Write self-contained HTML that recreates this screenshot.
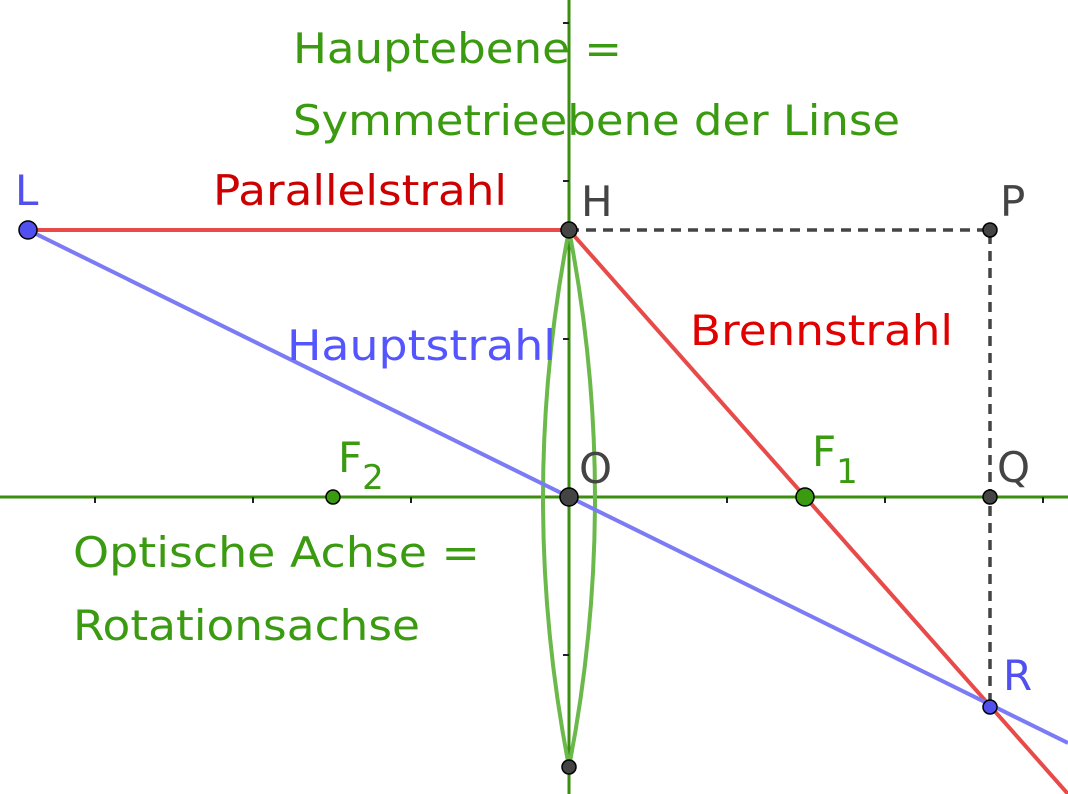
<!DOCTYPE html>
<html><head><meta charset="utf-8"><style>
body{margin:0;background:#fff}
svg{display:block}
text{font-family:"DejaVu Sans","Liberation Sans",sans-serif;font-size:42px}
</style></head><body>
<svg width="1068" height="794" viewBox="0 0 1068 794" xmlns="http://www.w3.org/2000/svg">
<line x1="0" y1="497" x2="1068" y2="497" stroke="#3a8f10" stroke-width="3"/>
<line x1="569" y1="0" x2="569" y2="794" stroke="#3a8f10" stroke-width="3"/>
<g stroke="#222" stroke-width="2">
<line x1="95" y1="497" x2="95" y2="503"/><line x1="253" y1="497" x2="253" y2="503"/><line x1="411" y1="497" x2="411" y2="503"/>
<line x1="727" y1="497" x2="727" y2="503"/><line x1="885" y1="497" x2="885" y2="503"/><line x1="1043" y1="497" x2="1043" y2="503"/>
<line x1="563" y1="23" x2="569" y2="23"/><line x1="563" y1="181" x2="569" y2="181"/><line x1="563" y1="339" x2="569" y2="339"/><line x1="563" y1="655" x2="569" y2="655"/>
</g>
<path d="M569 230 Q517 498 569 767" fill="none" stroke="#6ab94a" stroke-width="4"/>
<path d="M569 230 Q621 498 569 767" fill="none" stroke="#6ab94a" stroke-width="4"/>
<polyline points="569,230 990,230 990,707" fill="none" stroke="#444" stroke-width="3.5" stroke-dasharray="10,7"/>
<line x1="28" y1="230" x2="569" y2="230" stroke="#e84a4a" stroke-width="4"/>
<line x1="569" y1="230" x2="1068" y2="794" stroke="#e84a4a" stroke-width="4"/>
<line x1="28" y1="230" x2="1068" y2="743" stroke="#7b7bf5" stroke-width="4"/>
<g stroke="#000" stroke-width="1.5">
<circle cx="28" cy="230" r="9" fill="#5050ee"/>
<circle cx="569" cy="230" r="8" fill="#444"/>
<circle cx="990" cy="230" r="7" fill="#444"/>
<circle cx="990" cy="497" r="7" fill="#444"/>
<circle cx="569" cy="497" r="9" fill="#444"/>
<circle cx="569" cy="767" r="7" fill="#444"/>
<circle cx="333" cy="497" r="7" fill="#3a9a10"/>
<circle cx="805" cy="497" r="9" fill="#3a9a10"/>
<circle cx="990" cy="707" r="7" fill="#5050ee"/>
</g>
<g fill="#3a9a10">
<text x="293" y="63" textLength="329" lengthAdjust="spacingAndGlyphs">Hauptebene =</text>
<text x="293" y="135" textLength="607" lengthAdjust="spacingAndGlyphs">Symmetrieebene der Linse</text>
<text x="73" y="567" textLength="407" lengthAdjust="spacingAndGlyphs">Optische Achse =</text>
<text x="73" y="640" textLength="347" lengthAdjust="spacingAndGlyphs">Rotationsachse</text>
<text x="338" y="472">F<tspan font-size="34" dy="17">2</tspan></text>
<text x="812" y="466">F<tspan font-size="34" dy="17">1</tspan></text>
</g>
<text x="15" y="205" fill="#5050ee">L</text>
<text x="1003" y="690" fill="#5050ee">R</text>
<text x="287" y="360" fill="#5555ff" textLength="269" lengthAdjust="spacingAndGlyphs">Hauptstrahl</text>
<text x="213" y="205" fill="#cc0000" textLength="294" lengthAdjust="spacingAndGlyphs">Parallelstrahl</text>
<text x="690" y="345" fill="#e00000" textLength="263" lengthAdjust="spacingAndGlyphs">Brennstrahl</text>
<g fill="#444">
<text x="581" y="216">H</text>
<text x="1000" y="216">P</text>
<text x="579" y="483">O</text>
<text x="997" y="482">Q</text>
</g>
</svg>
</body></html>
